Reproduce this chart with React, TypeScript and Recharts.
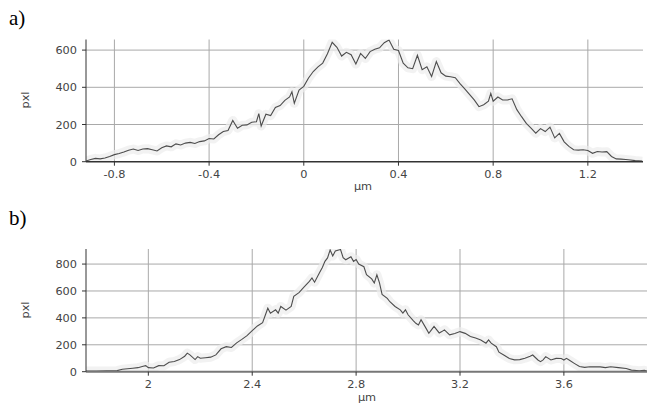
import React from 'react';
import { LineChart, Line, XAxis, YAxis, ReferenceLine } from 'recharts';

// Profile a): position along the scan (µm) and intensity (pxl)
const profileAPos = [
  -0.92, -0.9, -0.88, -0.86, -0.84, -0.82, -0.8, -0.78, -0.76, -0.74, -0.72, -0.7, -0.68, -0.66, -0.64, -0.62,
  -0.6, -0.58, -0.56, -0.54, -0.52, -0.5, -0.48, -0.46, -0.44, -0.42, -0.4, -0.38, -0.36, -0.34, -0.32, -0.3,
  -0.28, -0.26, -0.24, -0.22, -0.2, -0.19, -0.18, -0.16, -0.14, -0.12, -0.1, -0.08, -0.06, -0.05, -0.04, -0.02,
  0, 0.02, 0.04, 0.06, 0.08, 0.1, 0.12, 0.14, 0.16, 0.18, 0.2, 0.22, 0.24, 0.26, 0.28, 0.3,
  0.32, 0.34, 0.36, 0.38, 0.4, 0.42, 0.44, 0.46, 0.48, 0.5, 0.52, 0.54, 0.56, 0.58, 0.6, 0.62,
  0.64, 0.66, 0.68, 0.7, 0.72, 0.74, 0.76, 0.78, 0.79, 0.8, 0.82, 0.84, 0.86, 0.88, 0.9, 0.92,
  0.94, 0.96, 0.98, 1.0, 1.02, 1.04, 1.06, 1.08, 1.1, 1.12, 1.14, 1.16, 1.18, 1.2, 1.22, 1.24,
  1.26, 1.28, 1.3, 1.32, 1.34, 1.36, 1.38, 1.4, 1.43,
];
const profileAPxl = [
  4, 12, 18, 15, 20, 28, 38, 44, 52, 62, 68, 60, 68, 70, 64, 58,
  75, 85, 80, 96, 90, 100, 104, 98, 108, 112, 125, 122, 145, 162, 168, 222,
  180, 196, 198, 212, 215, 258, 192, 255, 248, 292, 302, 330, 348, 376, 314, 385,
  405, 450, 485, 510, 530, 580, 642, 615, 568, 588, 575, 525, 582, 555, 592, 605,
  612, 640, 654, 605, 598, 530, 505, 500, 572, 495, 510, 458, 538, 478, 460, 457,
  452, 420, 392, 362, 332, 296, 306, 325, 367, 325, 348, 332, 332, 338, 280, 242,
  206, 180, 153, 178, 162, 186, 128, 152, 107, 82, 64, 62, 64, 60, 45, 55,
  52, 54, 28, 15, 14, 12, 9, 6, 3,
];

// Profile b)
const profileBPos = [
  1.76, 1.8, 1.84, 1.88, 1.9, 1.92, 1.94, 1.96, 1.98, 1.99, 2.0, 2.02, 2.04, 2.06, 2.08, 2.1,
  2.12, 2.14, 2.15, 2.16, 2.18, 2.19, 2.2, 2.22, 2.24, 2.26, 2.28, 2.3, 2.32, 2.34, 2.36, 2.38,
  2.4, 2.42, 2.44, 2.46, 2.47, 2.49, 2.5, 2.51, 2.53, 2.55, 2.56, 2.58, 2.6, 2.62, 2.63, 2.64,
  2.66, 2.67, 2.68, 2.69, 2.7, 2.71, 2.72, 2.74, 2.75, 2.76, 2.78, 2.79, 2.8, 2.81, 2.83, 2.84,
  2.86, 2.87, 2.88, 2.89, 2.9, 2.92, 2.93, 2.95, 2.97, 2.98, 2.99, 3.0, 3.02, 3.03, 3.04, 3.05,
  3.07, 3.08, 3.09, 3.1, 3.12, 3.13, 3.14, 3.16, 3.18, 3.2, 3.22, 3.24, 3.26, 3.28, 3.3, 3.31,
  3.32, 3.34, 3.35, 3.37, 3.39, 3.41, 3.43, 3.45, 3.47, 3.48, 3.5, 3.51, 3.52, 3.53, 3.55, 3.57,
  3.59, 3.6, 3.61, 3.62, 3.64, 3.66, 3.68, 3.7, 3.74, 3.76, 3.78, 3.81, 3.84, 3.86, 3.89, 3.91,
  3.92,
];
const profileBPxl = [
  5, 5, 6, 8, 18, 22, 26, 30, 40, 45, 30, 28, 45, 44, 70, 76,
  90, 115, 138, 125, 90, 112, 100, 104, 108, 125, 170, 186, 180, 214, 240, 268,
  305, 340, 365, 472, 435, 460, 435, 485, 458, 485, 560, 588, 630, 672, 697, 665,
  740, 775, 820, 846, 905, 860, 898, 908, 848, 832, 855, 820, 834, 800, 780, 722,
  690, 659, 720, 660, 575, 545, 520, 485, 460, 435, 460, 423, 380, 360, 348, 386,
  320, 286, 311, 336, 288, 298, 311, 274, 284, 298, 285, 262, 250, 236, 212, 236,
  212, 186, 145, 122, 98, 88, 90, 100, 115, 124, 87, 75, 88, 112, 87, 99,
  98, 87, 99, 87, 62, 38, 32, 37, 36, 30, 37, 30, 24, 12, 7, 10,
  5,
];

const ticksAX = [-0.8, -0.4, 0, 0.4, 0.8, 1.2];
const ticksAY = [0, 200, 400, 600];
const ticksBX = [2, 2.4, 2.8, 3.2, 3.6];
const ticksBY = [0, 200, 400, 600, 800];

const rowsA = profileAPos.map((pos, i) => ({ pos, v: profileAPxl[i] }));
const rowsB = profileBPos.map((pos, i) => ({ pos, v: profileBPxl[i] }));

const tickFont = { fontFamily: 'DejaVu Sans, Verdana, sans-serif', fontSize: 11.3, fill: '#444' };
const gridColor = '#a9a9a9';

type PanelProps = {
  rows: { pos: number; v: number }[];
  xDomain: [number, number];
  yDomain: [number, number];
  xTicks: number[];
  yTicks: number[];
  height: number;
  margin: { top: number; right: number; bottom: number; left: number };
  axisStroke: string;
  axisWidth: number;
};

function Panel({ rows, xDomain, yDomain, xTicks, yTicks, height, margin, axisStroke, axisWidth }: PanelProps) {
  return (
    <LineChart width={659} height={height} data={rows} margin={margin}>
      <XAxis
        dataKey="pos"
        type="number"
        domain={xDomain}
        ticks={xTicks}
        allowDataOverflow
        height={30}
        tickSize={4}
        tickMargin={4}
        axisLine={{ stroke: axisStroke, strokeWidth: axisWidth }}
        tickLine={{ stroke: '#333' }}
        tick={tickFont}
      />
      <YAxis
        type="number"
        domain={yDomain}
        ticks={yTicks}
        allowDataOverflow
        width={86}
        tickSize={4}
        tickMargin={5}
        axisLine={{ stroke: '#333', strokeWidth: 1 }}
        tickLine={{ stroke: '#333' }}
        tick={tickFont}
      />
      {/* grid lines at the labelled values only */}
      {yTicks.filter((t) => t !== 0).map((t) => (
        <ReferenceLine key={`h${t}`} y={t} stroke={gridColor} strokeWidth={1} />
      ))}
      {xTicks.map((t) => (
        <ReferenceLine key={`v${t}`} x={t} stroke={gridColor} strokeWidth={1} />
      ))}
      <Line
        dataKey="v"
        type="linear"
        stroke="#ededed"
        strokeOpacity={0.7}
        strokeWidth={9}
        strokeLinejoin="round"
        dot={false}
        isAnimationActive={false}
      />
      <Line
        dataKey="v"
        type="linear"
        stroke="#4d4d4d"
        strokeWidth={1.1}
        dot={false}
        isAnimationActive={false}
      />
    </LineChart>
  );
}

export default function App() {
  const label = { fontFamily: 'DejaVu Sans, Verdana, sans-serif', fontSize: 11.3, fill: '#444' };
  const panelTitle = { fontFamily: '"Liberation Serif", "Times New Roman", serif', fontSize: 21, fill: '#000' };
  return (
    <div style={{ position: 'absolute', left: 0, top: 0, width: 659, height: 408, background: '#fff' }}>
      <div style={{ position: 'absolute', left: 0, top: 0 }}>
        <Panel
          rows={rowsA}
          xDomain={[-0.92, 1.433]}
          yDomain={[0, 657]}
          xTicks={ticksAX}
          yTicks={ticksAY}
          height={200}
          margin={{ top: 39.5, right: 16, bottom: 8.3, left: 0 }}
          axisStroke="#333"
          axisWidth={1.5}
        />
      </div>
      <div style={{ position: 'absolute', left: 0, top: 200 }}>
        <Panel
          rows={rowsB}
          xDomain={[1.76, 3.92]}
          yDomain={[0, 912]}
          xTicks={ticksBX}
          yTicks={ticksBY}
          height={208}
          margin={{ top: 49, right: 12, bottom: 6.3, left: 0 }}
          axisStroke="#777"
          axisWidth={2}
        />
      </div>
      <svg width={659} height={408} style={{ position: 'absolute', left: 0, top: 0, pointerEvents: 'none' }}>
        <text x={9} y={25} style={panelTitle}>a)</text>
        <text x={9} y={225} style={panelTitle}>b)</text>
        <text x={29} y={100} textAnchor="middle" transform="rotate(-90 29 100)" style={label}>pxl</text>
        <text x={29} y={310} textAnchor="middle" transform="rotate(-90 29 310)" style={label}>pxl</text>
        <text x={363} y={190} textAnchor="middle" style={label}>µm</text>
        <text x={367} y={401} textAnchor="middle" style={label}>µm</text>
      </svg>
    </div>
  );
}
